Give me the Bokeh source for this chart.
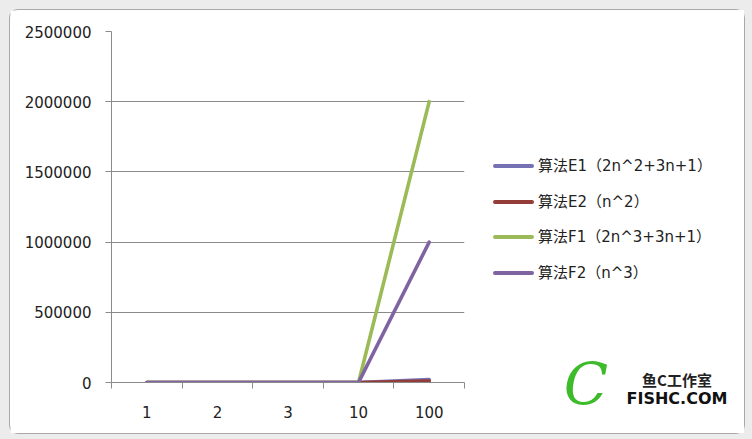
from bokeh.plotting import figure
from bokeh.models import FixedTicker, Div
from bokeh.layouts import column, row
from bokeh.embed import file_html
from bokeh.resources import INLINE

categories = ["1", "2", "3", "10", "100"]
e1_values = [6, 15, 28, 231, 20301]
e2_values = [1, 4, 9, 100, 10000]
f1_values = [6, 23, 64, 2031, 2000301]
f2_values = [1, 8, 27, 1000, 1000000]
series_names = ["算法E1（2n^2+3n+1）", "算法E2（n^2）", "算法F1（2n^3+3n+1）", "算法F2（n^3）"]
series_colors = ["#7571B3", "#943C38", "#9BBB59", "#8064A2"]
y_ticks = [0, 500000, 1000000, 1500000, 2000000, 2500000]
logo_lines = ["鱼C工作室", "FISHC.COM"]

xs = [i + 0.5 for i in range(len(categories))]
grey = "#8a8a8a"

p = figure(width=470, height=423, output_backend="svg", toolbar_location=None,
           x_range=(0, len(categories)), y_range=(0, 2500000),
           min_border_left=101, min_border_right=16, min_border_top=21, min_border_bottom=51)
p.background_fill_color = "white"
p.border_fill_color = "white"
p.outline_line_color = None

series_all = [e1_values, e2_values, f1_values, f2_values]
for vals, col, name in zip(series_all, series_colors, series_names):
    p.line(xs, vals, line_color=col, line_width=3.6, line_cap="round", line_join="round")

# x axis
p.xaxis.ticker = FixedTicker(ticks=xs, minor_ticks=list(range(len(categories) + 1)))
p.xaxis.major_label_overrides = {x: c for x, c in zip(xs, categories)}
p.xaxis.major_tick_out = 0
p.xaxis.major_tick_in = 0
p.xaxis.minor_tick_out = 6
p.xaxis.minor_tick_in = 0
p.xaxis.minor_tick_line_color = grey
p.xaxis.axis_line_color = grey
p.xaxis.major_label_standoff = 17
p.xaxis.major_label_text_font = "DejaVu Sans"
p.xaxis.major_label_text_font_size = "15px"
p.xaxis.major_label_text_color = "#222222"

# y axis
p.yaxis.ticker = FixedTicker(ticks=y_ticks, minor_ticks=[])
p.yaxis.major_label_overrides = {t: str(t) for t in y_ticks}
p.yaxis.major_tick_out = 6
p.yaxis.major_tick_in = 0
p.yaxis.major_tick_line_color = grey
p.yaxis.axis_line_color = grey
p.yaxis.major_label_standoff = 14
p.yaxis.major_label_text_font = "DejaVu Sans"
p.yaxis.major_label_text_font_size = "15px"
p.yaxis.major_label_text_color = "#222222"

p.xgrid.grid_line_color = None
p.ygrid.ticker = FixedTicker(ticks=y_ticks)
p.ygrid.grid_line_color = grey
p.ygrid.grid_line_width = 1

# right-hand side: legend and logo as HTML
font = "'DejaVu Sans', 'Noto Sans CJK SC', sans-serif"
parts = []
for i, (name, col) in enumerate(zip(series_names, series_colors)):
    top = 156 + i * 35.7
    parts.append(
        f'<div style="position:absolute;left:13px;top:{top:.1f}px;transform:translateY(-50%);'
        f'display:flex;align-items:center;white-space:nowrap;font-family:{font};'
        f'font-size:15px;color:#222;line-height:20px;">'
        f'<span style="display:inline-block;width:41px;height:4px;border-radius:2px;'
        f'background:{col};margin-right:4px;"></span>{name}</div>')
parts.append(
    '<div style="position:absolute;left:106px;top:374px;transform:translate(-50%,-50%);'
    "font-family:'DejaVu Serif',serif;font-style:italic;font-size:58px;color:#3DBB2A;"
    'line-height:1;">C</div>')
parts.append(
    '<div style="position:absolute;left:197px;top:369px;transform:translate(-50%,-50%);'
    "font-family:'Noto Sans CJK SC',sans-serif;font-weight:bold;font-size:15px;color:#222;"
    f'line-height:1;white-space:nowrap;">{logo_lines[0]}</div>')
parts.append(
    '<div style="position:absolute;left:197px;top:389px;transform:translate(-50%,-50%);'
    "font-family:'DejaVu Sans',sans-serif;font-weight:bold;font-size:16px;color:#111;"
    f'line-height:1;white-space:nowrap;">{logo_lines[1]}</div>')

html = ('<div style="position:relative;width:264px;height:423px;background:white;">'
        + "".join(parts) + "</div>")
side = Div(text=html, width=264, height=423, margin=0)

inner = row(p, side, spacing=0)
inner.margin = (9, 9, 7, 9)
inner.styles = {"border": "1px solid #a8a8a8", "border-radius": "9px", "background-color": "white"}
layout = column(inner, styles={"background-color": "#ececec"})
open("out.html", "w").write(file_html(layout, INLINE))
